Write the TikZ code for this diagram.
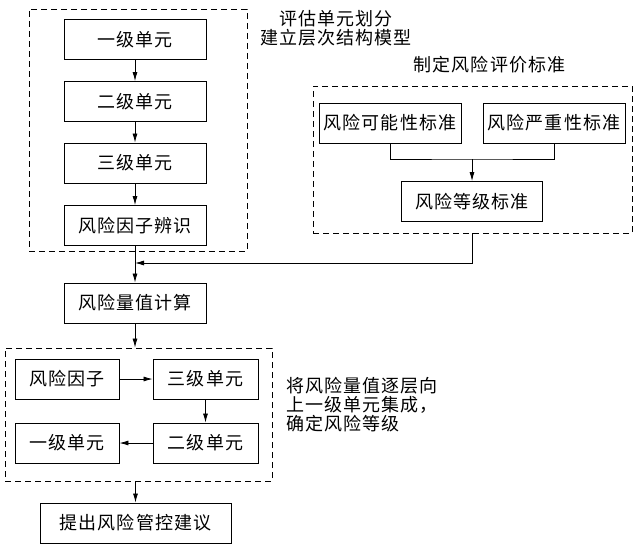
\documentclass[tikz,border=0pt]{standalone}
\usepackage{fontspec}
\newfontfamily\cjk{Noto Sans CJK SC}[LetterSpace=6]
\usetikzlibrary{arrows.meta}
\begin{document}
\begin{tikzpicture}[x=1pt,y=-1pt,
  box/.style={draw, line width=0.9pt, rectangle, minimum height=40pt, inner sep=0pt, font=\cjk\fontsize{18}{19}\selectfont},
  grp/.style={draw, line width=0.9pt, dash pattern=on 6pt off 4pt, rectangle, inner sep=0pt},
  lbl/.style={inner sep=0pt, font=\cjk\fontsize{18}{19}\selectfont},
  arr/.style={line width=0.8pt, -{Latex[length=9pt,width=5pt]}},
  ln/.style={line width=0.8pt}]
\useasboundingbox (0,0) rectangle (636,546);
% group A
\node[grp, minimum width=218pt, minimum height=242pt] (grpA) at (138,130) {};
\node[box, minimum width=142pt] (a1) at (135,39.5) {一级单元};
\node[box, minimum width=142pt] (a2) at (135,101.5) {二级单元};
\node[box, minimum width=142pt] (a3) at (135,163) {三级单元};
\node[box, minimum width=142pt] (a4) at (135,225.5) {风险因子辨识};
\node[lbl, align=center] (tA) at (336,28) {评估单元划分\\建立层次结构模型};
\draw[arr] (a1) -- (a2);
\draw[arr] (a2) -- (a3);
\draw[arr] (a3) -- (a4);
% group B
\node[grp, minimum width=319pt, minimum height=147pt] (grpB) at (472.5,159.5) {};
\node[lbl] (tB) at (489.5,65) {制定风险评价标准};
\node[box, minimum width=142pt] (b1) at (390,123) {风险可能性标准};
\node[box, minimum width=142pt] (b2) at (554,123) {风险严重性标准};
\node[box, minimum width=141pt] (b3) at (472,201.5) {风险等级标准};
\coordinate (bj) at (472,159);
\draw[ln] (b1.south) |- (bj) -| (b2.south);
\draw[arr] (bj) -- (b3.north);
% calc
\node[box, minimum width=142pt] (calc) at (135,303) {风险量值计算};
\coordinate (mj) at (135,263);
\draw[arr] (a4) -- (calc);
\draw[arr] (grpB.south) |- (mj);
% group C
\node[grp, minimum width=267pt, minimum height=133pt] (grpC) at (138.5,414.5) {};
\node[box, minimum width=104pt] (c1) at (67,379) {风险因子};
\node[box, minimum width=105pt] (c2) at (205.5,379) {三级单元};
\node[box, minimum width=105pt] (c3) at (205.5,443) {二级单元};
\node[box, minimum width=104pt] (c4) at (67,443) {一级单元};
\draw[arr] (c1) -- (c2);
\draw[arr] (c2) -- (c3);
\draw[arr] (c3) -- (c4);
\draw[arr] (calc.south) -- (calc.south |- grpC.north);
\node[lbl, align=left, anchor=west] (tC) at (286,405) {将风险量值逐层向\\上一级单元集成，\\确定风险等级};
% final
\node[box, minimum width=191pt] (fin) at (135.5,523) {提出风险管控建议};
\draw[arr] (fin.north |- grpC.south) -- (fin.north);
\end{tikzpicture}
\end{document}
